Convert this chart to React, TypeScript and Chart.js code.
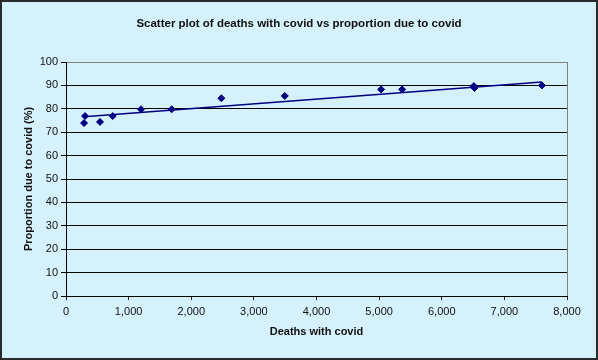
import { useEffect, useRef } from "react";
import { Chart, registerables } from "chart.js";
Chart.register(...registerables);

const deathsWithCovid = [288, 304, 543, 746, 1198, 1688, 2481, 3494, 5032, 5367, 6513, 6523, 7599];
const proportionDueToCovid = [73.9, 76.9, 74.4, 76.9, 79.8, 79.8, 84.5, 85.5, 88.3, 88.3, 89.7, 88.9, 90.0];
const trendX = [290, 7600];
const trendY = [76.6, 91.5];
const titleText = "Scatter plot of deaths with covid vs proportion due to covid";
const xTitle = "Deaths with covid";
const yTitle = "Proportion due to covid (%)";

const FONT = "'Liberation Sans', Arial, sans-serif";
const BG = "#D5F1FB";
const NAVY = "#000080";

const framePlugin = {
  id: "frame",
  beforeDraw(chart: any) {
    const { ctx, width, height } = chart;
    ctx.save();
    ctx.fillStyle = BG;
    ctx.fillRect(0, 0, width, height);
    ctx.restore();
  },
  afterDraw(chart: any) {
    const { ctx, width, height, chartArea } = chart;
    ctx.save();
    ctx.strokeStyle = "#808080";
    ctx.lineWidth = 1;
    ctx.beginPath();
    ctx.moveTo(chartArea.right + 0.5, chartArea.top);
    ctx.lineTo(chartArea.right + 0.5, chartArea.bottom);
    ctx.stroke();
    ctx.fillStyle = "#111";
    ctx.font = `bold 11.5px ${FONT}`;
    ctx.textAlign = "center";
    ctx.textBaseline = "middle";
    ctx.fillText(titleText, width / 2, 24);
    ctx.strokeStyle = "#2a2a2a";
    ctx.lineWidth = 2;
    ctx.strokeRect(1, 1, width - 2, height - 2);
    ctx.restore();
  },
};

export default function App() {
  const ref = useRef<HTMLCanvasElement>(null);
  useEffect(() => {
    if (!ref.current) return;
    const chart = new Chart(ref.current, {
      type: "scatter",
      data: {
        datasets: [
          {
            type: "line",
            data: trendX.map((x, i) => ({ x, y: trendY[i] })),
            borderColor: NAVY,
            borderWidth: 1.5,
            pointRadius: 0,
            fill: false,
          } as any,
          {
            data: deathsWithCovid.map((x, i) => ({ x, y: proportionDueToCovid[i] })),
            pointStyle: "rectRot",
            pointRadius: 3.5,
            backgroundColor: NAVY,
            borderColor: NAVY,
          },
        ],
      },
      options: {
        animation: false,
        responsive: false,
        devicePixelRatio: 1,
        layout: { padding: { left: 0, right: 31, top: 62, bottom: 0 } },
        plugins: {
          legend: { display: false },
          tooltip: { enabled: false },
          title: { display: false },
        },
        scales: {
          x: {
            type: "linear",
            min: 0,
            max: 8000,
            afterFit: (s: any) => { s.height = 64; },
            ticks: {
              stepSize: 1000,
              color: "#111",
              padding: 5,
              maxRotation: 0,
              font: { family: FONT, size: 11 },
              callback: (v: any) => Number(v).toLocaleString("en-US"),
            },
            grid: { drawOnChartArea: false, color: "#000", tickLength: 4 },
            border: { color: "#000" },
            title: {
              display: true,
              text: xTitle,
              color: "#111",
              font: { family: FONT, size: 11, weight: "bold", lineHeight: 1.2 },
              padding: { top: 0, bottom: 21.4 },
            },
          },
          y: {
            min: 0,
            max: 100,
            afterFit: (s: any) => { s.width = 66; },
            ticks: {
              stepSize: 10,
              color: "#111",
              padding: 3,
              font: { family: FONT, size: 11 },
            },
            grid: {
              color: (c: any) => (c.tick && c.tick.value === 100 ? "#808080" : "#000"),
              tickColor: "#000",
              tickLength: 5,
            },
            border: { color: "#000" },
            title: {
              display: true,
              text: yTitle,
              color: "#111",
              font: { family: FONT, size: 11, weight: "bold", lineHeight: 1.2 },
              padding: { top: 22.4, bottom: 0 },
            },
          },
        },
      },
      plugins: [framePlugin],
    });
    return () => chart.destroy();
  }, []);
  return (
    <div style={{ position: "absolute", left: 0, top: 0, width: 598, height: 360 }}>
      <canvas ref={ref} width={598} height={360} style={{ display: "block" }} />
    </div>
  );
}
